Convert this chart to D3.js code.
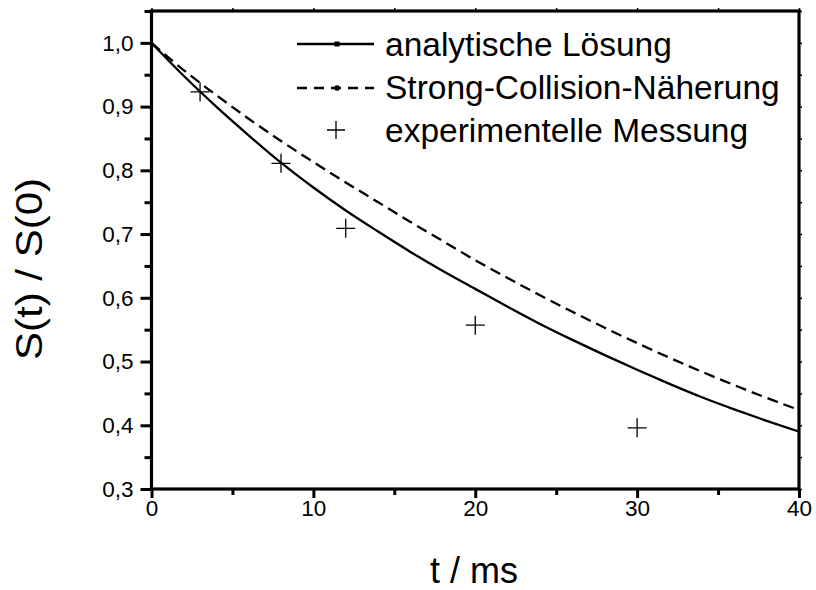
<!DOCTYPE html>
<html><head><meta charset="utf-8">
<script src="https://cdn.jsdelivr.net/npm/d3@7"></script>
<style>
html,body{margin:0;padding:0;background:#fff;}
svg{display:block;font-family:"Liberation Sans",Arial,sans-serif;}
</style></head>
<body>
<svg id="c" width="816" height="590"></svg>
<script>
// ---- data ----
const tGrid = [0,2,4,6,8,10,12,14,16,18,20,22,24,26,28,30,32,34,36,38,40];
const analytic = [1.000,0.948,0.900,0.855,0.812,0.773,0.737,0.704,0.672,0.642,0.614,0.586,0.559,0.534,0.510,0.487,0.465,0.444,0.425,0.407,0.390];
const strongCollision = [1.000,0.957,0.918,0.881,0.846,0.813,0.781,0.750,0.719,0.689,0.659,0.631,0.604,0.578,0.553,0.529,0.506,0.484,0.463,0.443,0.424];
const expT = [3,8,12,20,30];
const expS = [0.923,0.811,0.709,0.557,0.396];
const xTicks = [0,10,20,30,40];
const xMinor = [5,15,25,35];
const yTicks = [0.3,0.4,0.5,0.6,0.7,0.8,0.9,1.0];
const yMinor = [0.35,0.45,0.55,0.65,0.75,0.85,0.95,1.05];
const legendLabels = ["analytische Lösung","Strong-Collision-Näherung","experimentelle Messung"];
const xTitle = "t / ms";
const yTitle = "S(t) / S(0)";

// ---- layout ----
const L=151.5, R=799, T=11, B=489;
const svg = d3.select("#c");
const x = d3.scaleLinear().domain([0,40]).range([L,R]);
const y = d3.scaleLinear().domain([0.3,1.05]).range([B,T]);
const fmt = v => d3.format(".1f")(v).replace(".",",");

// curves
const line = d3.line().x(d=>x(d[0])).y(d=>y(d[1])).curve(d3.curveMonotoneX);
svg.append("path").datum(tGrid.map((t,i)=>[t,strongCollision[i]]))
  .attr("d",line).attr("fill","none").attr("stroke","#000").attr("stroke-width",2.3)
  .attr("stroke-dasharray","11,6");
svg.append("path").datum(tGrid.map((t,i)=>[t,analytic[i]]))
  .attr("d",line).attr("fill","none").attr("stroke","#000").attr("stroke-width",2.3);

// experimental points
const plus = s => `M${-s},0H${s}M0,${-s}V${s}`;
svg.append("g").selectAll("path").data(expT.map((t,i)=>[t,expS[i]])).join("path")
  .attr("transform",d=>`translate(${x(d[0])},${y(d[1])})`)
  .attr("d",plus(9.5)).attr("stroke","#000").attr("stroke-width",1.3).attr("fill","none");

// axes
function styleAxis(g, w){
  g.select(".domain").remove();
  g.selectAll(".tick line").style("stroke","#000").style("stroke-width",w);
  g.selectAll("text").attr("fill","#000").style("font-size","22.5px")
   .style("font-family",'"Liberation Sans",Arial,sans-serif');
}
const gx = svg.append("g").attr("transform",`translate(0,${B})`)
  .call(d3.axisBottom(x).tickValues(xTicks).tickSize(9).tickSizeOuter(0).tickFormat(d3.format("d")));
styleAxis(gx,3);
gx.selectAll("text").attr("y",27).attr("dy",0);
const gxm = svg.append("g").attr("transform",`translate(0,${B})`)
  .call(d3.axisBottom(x).tickValues(xMinor).tickSize(6).tickFormat(""));
styleAxis(gxm,3);

const gy = svg.append("g").attr("transform",`translate(${L},0)`)
  .call(d3.axisLeft(y).tickValues(yTicks).tickSize(11).tickPadding(7).tickFormat(fmt));
styleAxis(gy,3);
const gym = svg.append("g").attr("transform",`translate(${L},0)`)
  .call(d3.axisLeft(y).tickValues(yMinor).tickSize(7).tickFormat(""));
styleAxis(gym,3);

// top & right small ticks
const gt = svg.append("g").attr("transform",`translate(0,${T})`)
  .call(d3.axisTop(x).tickValues(xTicks.concat(xMinor)).tickSize(3).tickFormat(""));
styleAxis(gt,1.5);
const gr = svg.append("g").attr("transform",`translate(${R},0)`)
  .call(d3.axisRight(y).tickValues(yTicks.concat(yMinor)).tickSize(3).tickFormat(""));
styleAxis(gr,1.5);

// frame
svg.append("rect").attr("x",L).attr("y",T).attr("width",R-L).attr("height",B-T)
  .attr("fill","none").attr("stroke","#000").attr("stroke-width",3.2);

// titles
svg.append("text").attr("x",474).attr("y",583).attr("text-anchor","middle")
  .style("font-size","36px").text(xTitle);
svg.append("text").attr("transform","translate(42,269) rotate(-90)")
  .attr("text-anchor","middle").style("font-size","37px")
  .attr("textLength",182).attr("lengthAdjust","spacingAndGlyphs").text(yTitle);

// legend
const lg = svg.append("g");
const rows = [56,99,142];
const symX0=297, symX1=374, symXm=337, txtX=385;
lg.append("line").attr("x1",symX0).attr("x2",symX1).attr("y1",rows[0]-12).attr("y2",rows[0]-12)
  .attr("stroke","#000").attr("stroke-width",2.3);
lg.append("rect").attr("x",symXm-2.5).attr("y",rows[0]-14.5).attr("width",5).attr("height",5).attr("fill","#000");
lg.append("line").attr("x1",symX0).attr("x2",symX1).attr("y1",rows[1]-11).attr("y2",rows[1]-11)
  .attr("stroke","#000").attr("stroke-width",2.3).attr("stroke-dasharray","10,7");
lg.append("circle").attr("cx",symXm).attr("cy",rows[1]-11).attr("r",2.8).attr("fill","#000");
lg.append("path").attr("transform",`translate(${symXm-1},${rows[2]-12})`).attr("d",plus(9))
  .attr("stroke","#000").attr("stroke-width",1.3);
lg.selectAll("text").data(legendLabels).join("text")
  .attr("x",txtX).attr("y",(d,i)=>rows[i]).style("font-size","33.5px").text(d=>d);
</script>
</body></html>
